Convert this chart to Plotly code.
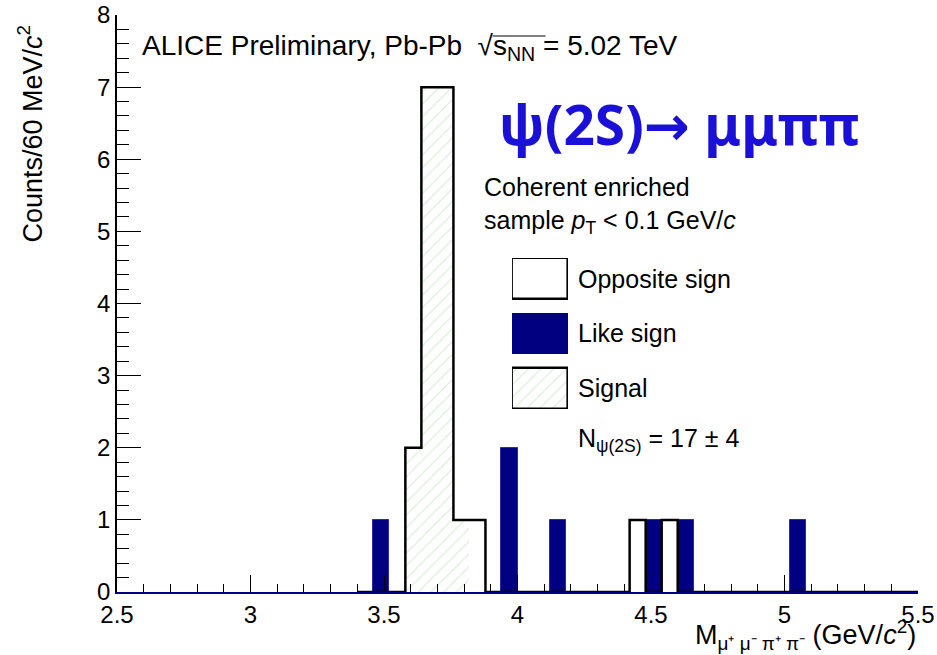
import numpy as np
import plotly.graph_objects as go

# ---- data ----
bin_width = 0.06
x_min, x_max = 2.5, 5.5
os_bin_low = [3.58, 3.64, 3.70, 3.76, 3.82, 4.42, 4.54]
os_counts = [2, 7, 7, 1, 1, 1, 1]
ls_bin_low = [3.46, 3.94, 4.12, 4.48, 4.60, 5.02]
ls_counts = [1, 2, 1, 1, 1, 1]
sig_bin_low = [3.58, 3.64, 3.70, 3.76]
sig_counts = [2, 7, 7, 1]
x_ticks = [2.5, 3, 3.5, 4, 4.5, 5, 5.5]
y_ticks = [0, 1, 2, 3, 4, 5, 6, 7, 8]
legend_labels = ["Opposite sign", "Like sign", "Signal"]

FONT = "Liberation Sans, Arial, sans-serif"
NAVY = "#000080"
HATCH = "#a9d9a9"

# full histogram for the opposite-sign outline
n_bins = int(round((x_max - x_min) / bin_width))
edges = np.round(x_min + bin_width * np.arange(n_bins + 1), 4)
os_full = np.zeros(n_bins)
for lo, c in zip(os_bin_low, os_counts):
    os_full[int(round((lo - x_min) / bin_width))] = c
start = int(round((3.40 - x_min) / bin_width))
step_x = list(edges[start:])
step_y = list(os_full[start:]) + [os_full[-1]]

def centers(lows):
    return [round(l + bin_width / 2, 4) for l in lows]

fig = go.Figure()

# signal (hatched)
fig.add_trace(go.Bar(
    x=centers(sig_bin_low), y=sig_counts, width=bin_width,
    marker=dict(color="white", line=dict(width=0),
                pattern=dict(shape="/", fgcolor=HATCH, bgcolor="white",
                             size=9, solidity=0.12)),
    showlegend=False, hoverinfo="skip"))

# like sign (navy filled)
fig.add_trace(go.Bar(
    x=centers(ls_bin_low), y=ls_counts, width=bin_width,
    marker=dict(color=NAVY, line=dict(width=1, color="#2a2ab0")),
    showlegend=False, hoverinfo="skip"))

# legend keys on an auxiliary invisible axis pair
leg_fill = ["white", NAVY, "white"]
leg_line = [2.5, 0, 2.5]
leg_base = [2, 1, 0]
for i in range(3):
    mk = dict(color=leg_fill[i], line=dict(width=leg_line[i], color="black"))
    if legend_labels[i] == "Signal":
        mk["pattern"] = dict(shape="/", fgcolor=HATCH, bgcolor="white",
                             size=9, solidity=0.12)
    fig.add_trace(go.Bar(
        x=[0.5], y=[0.745], base=[leg_base[i]], width=[1.0],
        marker=mk, xaxis="x2", yaxis="y2",
        showlegend=False, hoverinfo="skip"))

# opposite sign outline
fig.add_trace(go.Scatter(
    x=step_x, y=step_y, mode="lines", line=dict(color="black", width=2.5, shape="hv"),
    showlegend=False, hoverinfo="skip"))

fig.update_layout(
    width=937, height=655,
    margin=dict(l=117, r=19, t=15, b=63, autoexpand=False),
    paper_bgcolor="white", plot_bgcolor="white",
    barmode="overlay", bargap=0,
    font=dict(family=FONT, color="black", size=24),
    xaxis=dict(range=[x_min, x_max], tickvals=x_ticks,
               ticktext=[f"{v:g}" for v in x_ticks],
               ticks="inside", ticklen=17, tickwidth=1, tickcolor="black",
               minor=dict(dtick=0.1, tick0=2.5, ticks="inside", ticklen=8,
                          tickwidth=1, tickcolor="black"),
               showline=True, linecolor=NAVY, linewidth=2, mirror=False,
               showgrid=False, zeroline=False, automargin=False,
               tickfont=dict(size=24, family=FONT)),
    yaxis=dict(range=[0, 8], tickvals=y_ticks,
               ticks="inside", ticklen=24, tickwidth=1, tickcolor="black",
               minor=dict(dtick=0.2, tick0=0, ticks="inside", ticklen=12,
                          tickwidth=1, tickcolor="black"),
               showline=True, linecolor="black", linewidth=1.5, mirror=False,
               showgrid=False, zeroline=False, automargin=False,
               tickfont=dict(size=24, family=FONT)),
    xaxis2=dict(domain=[0.493, 0.563], range=[0, 1], visible=False,
                anchor="y2", fixedrange=True),
    yaxis2=dict(domain=[0.317, 0.579], range=[0, 2.745], visible=False,
                anchor="x2", fixedrange=True),
)

ann = [
    dict(text="ALICE Preliminary, Pb-Pb \u00a0√s<sub>NN</sub> = 5.02 TeV",
         x=0.0287, y=0.9445, xanchor="left", yanchor="middle",
         font=dict(size=28, family=FONT)),
    dict(text="<b>ψ(2S)<span style='font-family:DejaVu Sans'>→</span> μμππ</b>",
         x=0.4744, y=0.812, xanchor="left",
         yanchor="middle", font=dict(size=55, family="Noto Sans", color="#1a10d8")),
    dict(text="Coherent enriched<br>sample <i>p</i><sub>T</sub> &lt; 0.1 GeV/<i>c</i>",
         x=0.4557, y=0.669, xanchor="left", yanchor="middle", align="left",
         font=dict(size=25, family=FONT)),
    dict(text="N<sub>ψ(2S)</sub> = 17 ± 4", x=0.573, y=0.2634, xanchor="left",
         yanchor="middle", font=dict(size=25, family=FONT)),
    dict(text="M<sub>μ⁺ μ⁻ π⁺ π⁻</sub> (GeV/<i>c</i><sup>2</sup>)", x=1.0, y=-0.0745,
         xanchor="right", yanchor="middle", font=dict(size=27, family=FONT)),
    dict(text="Counts/60 MeV/<i>c</i><sup>2</sup>", x=-0.108, y=0.7955, textangle=-90,
         xanchor="center", yanchor="middle", font=dict(size=27, family=FONT)),
]
leg_y = [0.5425, 0.4489, 0.3536]
for lab, yy in zip(legend_labels, leg_y):
    ann.append(dict(text=lab, x=0.573, y=yy, xanchor="left", yanchor="middle",
                    font=dict(size=25, family=FONT)))
for a in ann:
    a.update(xref="paper", yref="paper", showarrow=False)
fig.update_layout(annotations=ann)

# overline of the square-root sign
fig.add_shape(type="line", xref="paper", yref="paper",
              x0=0.469, x1=0.535, y0=0.9636, y1=0.9636,
              line=dict(color="black", width=1))

fig.write_html("out.html", config={"displayModeBar": False},
               post_script="document.body.style.margin='0px';")
